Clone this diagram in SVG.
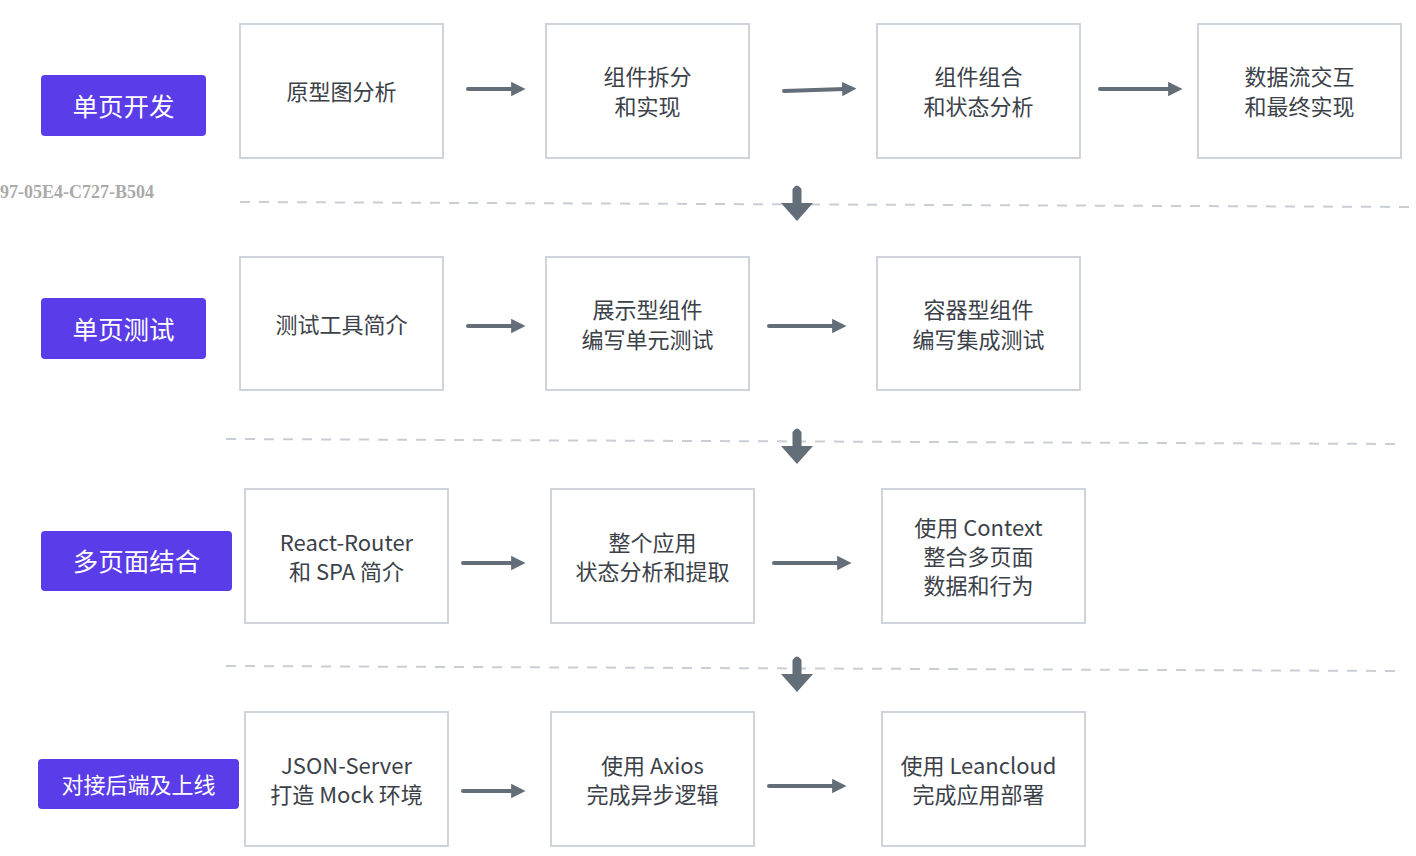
<svg xmlns="http://www.w3.org/2000/svg" width="1416" height="856" viewBox="0 0 1416 856">
<defs>
<style>
.box{fill:#fff;stroke:#cfd3db;stroke-width:2}
.lab{fill:#5a3ce8}
.lt{fill:#fff;font-family:"Noto Sans CJK SC","Noto Sans",sans-serif;font-size:25.5px;text-anchor:middle;dominant-baseline:central}
.nt{fill:#3b4149;font-family:"Noto Sans CJK SC","Noto Sans",sans-serif;font-size:22px;text-anchor:middle;dominant-baseline:central}
.arr{stroke:#646e79;stroke-width:4;stroke-linecap:round;fill:none;marker-end:url(#ah)}
.dash{stroke:#c9cdd5;stroke-width:2;stroke-dasharray:10 9;fill:none}
.down{fill:#646e79}
</style>
<marker id="ah" viewBox="0 0 10 10" refX="2" refY="5" markerWidth="3.6" markerHeight="4.4" orient="auto" markerUnits="strokeWidth">
<path d="M0,0 L10,5 L0,10 Z" fill="#646e79"/>
</marker>
</defs>
<rect width="1416" height="856" fill="#fff"/>
<text x="0" y="198" font-family="Liberation Serif,serif" font-weight="bold" font-size="18" fill="#aaaaaa">97-05E4-C727-B504</text>

<g id="connectors">
<path class="dash" d="M240,202 L1416,207"/>
<path class="dash" d="M226,439 L1400,444"/>
<path class="dash" d="M226,666 L1400,671"/>
<path class="arr" d="M468,89 L514,89"/>
<path class="arr" d="M784,91 L845,89"/>
<path class="arr" d="M1100,89 L1171,89"/>
<path class="arr" d="M468,326 L514,326"/>
<path class="arr" d="M769,326 L835,326"/>
<path class="arr" d="M463,563 L514,563"/>
<path class="arr" d="M774,563 L840,563"/>
<path class="arr" d="M463,791 L514,791"/>
<path class="arr" d="M769,786 L835,786"/>
<path class="down" d="M792.5,189 Q797,182 801.5,189 L801.5,203 L813,203 L797,221 L781,203 L792.5,203 Z"/>
<path class="down" d="M792.5,432 Q797,425 801.5,432 L801.5,446 L813,446 L797,464 L781,446 L792.5,446 Z"/>
<path class="down" d="M792.5,660 Q797,653 801.5,660 L801.5,674 L813,674 L797,692 L781,674 L792.5,674 Z"/>
</g>

<g id="lab1"><rect class="lab" x="41" y="75" width="165" height="61" rx="4"/><text class="lt" x="123.5" y="104">单页开发</text></g>
<g id="lab2"><rect class="lab" x="41" y="298" width="165" height="61" rx="4"/><text class="lt" x="123.5" y="327">单页测试</text></g>
<g id="lab3"><rect class="lab" x="41" y="531" width="191" height="60" rx="4"/><text class="lt" x="136.5" y="559.5">多页面结合</text></g>
<g id="lab4"><rect class="lab" x="38" y="759" width="201" height="50" rx="4"/><text class="lt" x="138.5" y="782.5" style="font-size:22px">对接后端及上线</text></g>

<g id="n11"><rect class="box" x="240" y="24" width="203" height="134"/><text class="nt" x="341.5" y="90">原型图分析</text></g>
<g id="n12"><rect class="box" x="546" y="24" width="203" height="134"/><text class="nt" x="647.5" y="75">组件拆分</text><text class="nt" x="647.5" y="105">和实现</text></g>
<g id="n13"><rect class="box" x="877" y="24" width="203" height="134"/><text class="nt" x="978.5" y="75">组件组合</text><text class="nt" x="978.5" y="105">和状态分析</text></g>
<g id="n14"><rect class="box" x="1198" y="24" width="203" height="134"/><text class="nt" x="1299.5" y="75">数据流交互</text><text class="nt" x="1299.5" y="105">和最终实现</text></g>

<g id="n21"><rect class="box" x="240" y="257" width="203" height="133"/><text class="nt" x="341.5" y="323">测试工具简介</text></g>
<g id="n22"><rect class="box" x="546" y="257" width="203" height="133"/><text class="nt" x="647.5" y="308">展示型组件</text><text class="nt" x="647.5" y="338">编写单元测试</text></g>
<g id="n23"><rect class="box" x="877" y="257" width="203" height="133"/><text class="nt" x="978.5" y="308">容器型组件</text><text class="nt" x="978.5" y="338">编写集成测试</text></g>

<g id="n31"><rect class="box" x="245" y="489" width="203" height="134"/><text class="nt" x="346.5" y="541">React-Router</text><text class="nt" x="346.5" y="570">和 SPA 简介</text></g>
<g id="n32"><rect class="box" x="551" y="489" width="203" height="134"/><text class="nt" x="652.5" y="541">整个应用</text><text class="nt" x="652.5" y="570">状态分析和提取</text></g>
<g id="n33"><rect class="box" x="882" y="489" width="203" height="134"/><text class="nt" x="978.5" y="526">使用 Context</text><text class="nt" x="978.5" y="555">整合多页面</text><text class="nt" x="978.5" y="584">数据和行为</text></g>

<g id="n41"><rect class="box" x="245" y="712" width="203" height="134"/><text class="nt" x="346.5" y="764">JSON-Server</text><text class="nt" x="346.5" y="793">打造 Mock 环境</text></g>
<g id="n42"><rect class="box" x="551" y="712" width="203" height="134"/><text class="nt" x="652.5" y="764">使用 Axios</text><text class="nt" x="652.5" y="793">完成异步逻辑</text></g>
<g id="n43"><rect class="box" x="882" y="712" width="203" height="134"/><text class="nt" x="978.5" y="764">使用 Leancloud</text><text class="nt" x="978.5" y="793">完成应用部署</text></g>
</svg>
